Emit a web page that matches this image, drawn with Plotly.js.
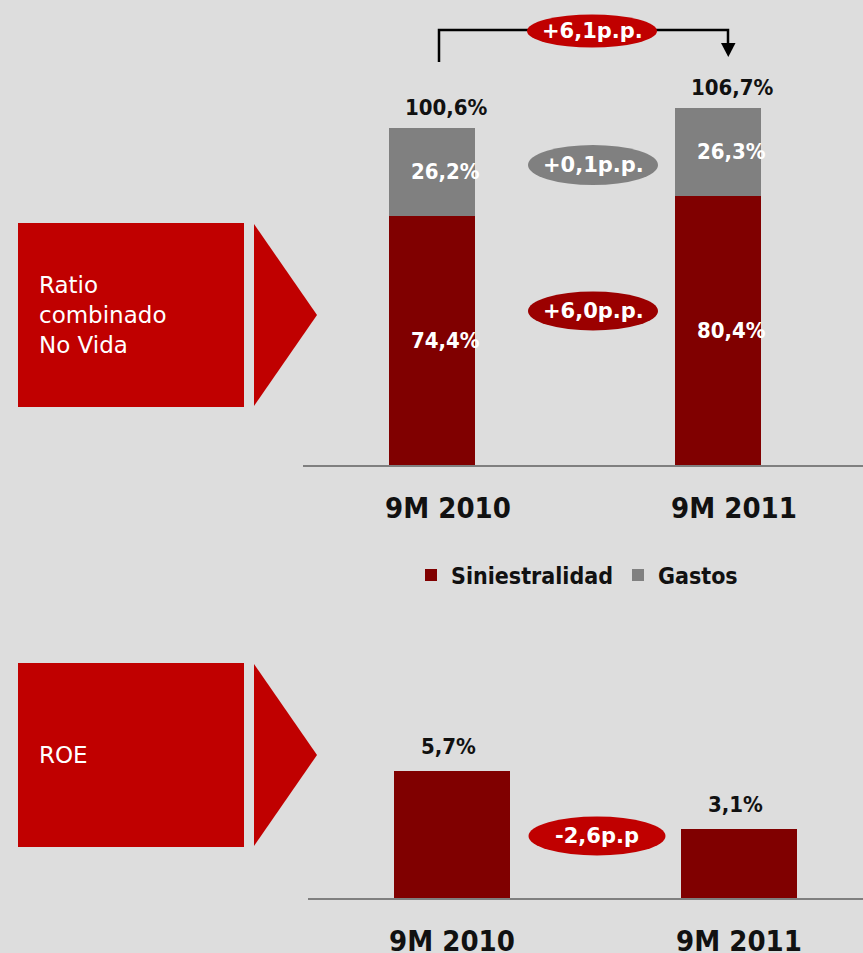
<!DOCTYPE html>
<html>
<head>
<meta charset="utf-8">
<script src="https://cdn.plot.ly/plotly-3.0.1.min.js"></script>
<style>
html,body{margin:0;padding:0;background:#dddddd;}
#chart{width:863px;height:953px;}
</style>
</head>
<body>
<div id="chart"></div>
<script>
// ---- data ----
const categories = ['9M 2010', '9M 2011'];
const siniestralidad = [74.4, 80.4];
const gastos = [26.2, 26.3];
const totals = [100.6, 106.7];
const roe = [5.7, 3.1];
const seriesNames = ['Siniestralidad', 'Gastos'];
const deltaLabels = ['+6,1p.p.', '+0,1p.p.', '+6,0p.p.', '-2,6p.p'];
const panelLabels = ['Ratio<br>combinado<br>No Vida', 'ROE'];

// ---- helpers ----
const W = 863, H = 953;
const px = x => x / W;
const py = y => 1 - y / H;
const fmt = v => v.toFixed(1).replace('.', ',') + '%';
const FONT = 'DejaVu Sans Condensed, DejaVu Sans, sans-serif';
const FONT2 = 'DejaVu Sans, sans-serif';
const DARK = '#800000', GRAY = '#808080', RED = '#c00000';

const traces = [
  {type:'bar', x:[0,1], y:siniestralidad, name:seriesNames[0], marker:{color:DARK}, width:0.30, xaxis:'x', yaxis:'y', hoverinfo:'skip'},
  {type:'bar', x:[0,1], y:gastos, name:seriesNames[1], marker:{color:GRAY}, width:0.30, xaxis:'x', yaxis:'y', hoverinfo:'skip'},
  {type:'bar', x:[0,1], y:roe, name:'ROE', marker:{color:DARK}, width:0.404, xaxis:'x2', yaxis:'y2', showlegend:false, hoverinfo:'skip'}
];

const annotations = [];
const lblFont = {family:FONT, size:22, color:'#111111', weight:'bold'};
const inFont = {family:FONT, size:22, color:'#ffffff', weight:'bold'};
for (let i = 0; i < 2; i++) {
  annotations.push({xref:'x', yref:'y', x:i, y:totals[i], text:fmt(totals[i]), showarrow:false, yanchor:'bottom', yshift:6, xshift:15, font:lblFont});
  annotations.push({xref:'x', yref:'y', x:i, y:siniestralidad[i] + gastos[i]/2, text:fmt(gastos[i]), showarrow:false, yanchor:'middle', xshift:14, font:inFont});
  annotations.push({xref:'x', yref:'y', x:i, y:siniestralidad[i]/2, text:fmt(siniestralidad[i]), showarrow:false, yanchor:'middle', xshift:14, font:inFont});
  annotations.push({xref:'x2', yref:'y2', x:i, y:roe[i], text:fmt(roe[i]), showarrow:false, yanchor:'bottom', yshift:10, xshift:-4, font:lblFont});
}

// ellipses with delta labels
const ellipses = [
  {cx:592, cy:31, w:130, h:33, color:RED, text:deltaLabels[0]},
  {cx:593, cy:165, w:130, h:40, color:GRAY, text:deltaLabels[1]},
  {cx:593, cy:311, w:130, h:39, color:'#9b0000', text:deltaLabels[2]},
  {cx:597, cy:836, w:137, h:39, color:RED, text:deltaLabels[3]}
];
const shapes = [];
// bracket line
shapes.push({type:'path', xref:'paper', yref:'paper',
  path:`M${px(439)},${py(62)} L${px(439)},${py(30)} L${px(728)},${py(30)} L${px(728)},${py(45)}`,
  line:{color:'#000000', width:2.5}});
shapes.push({type:'path', xref:'paper', yref:'paper',
  path:`M${px(721)},${py(43)} L${px(735.5)},${py(43)} L${px(728.3)},${py(57)} Z`,
  fillcolor:'#000000', line:{width:0}});
ellipses.forEach(e => {
  shapes.push({type:'circle', xref:'paper', yref:'paper',
    x0:px(e.cx - e.w/2), x1:px(e.cx + e.w/2), y0:py(e.cy + e.h/2), y1:py(e.cy - e.h/2),
    fillcolor:e.color, line:{width:0}});
  annotations.push({xref:'paper', yref:'paper', x:px(e.cx), y:py(e.cy), text:e.text, showarrow:false,
    xanchor:'center', yanchor:'middle', font:{family:FONT2, size:21, color:'#ffffff', weight:'bold'}});
});
// red panel boxes with arrows
const panels = [{y0:223, y1:407, tip:315}, {y0:663, y1:847, tip:755}];
panels.forEach((p, i) => {
  shapes.push({type:'rect', xref:'paper', yref:'paper', x0:px(18), x1:px(244), y0:py(p.y1), y1:py(p.y0), fillcolor:RED, line:{width:0}});
  shapes.push({type:'path', xref:'paper', yref:'paper',
    path:`M${px(254)},${py(p.y0+1)} L${px(317)},${py(p.tip)} L${px(254)},${py(p.y1-1)} Z`, fillcolor:RED, line:{width:0}});
  annotations.push({xref:'paper', yref:'paper', x:px(37), y:py(p.tip), text:panelLabels[i], showarrow:false,
    xanchor:'left', yanchor:'middle', align:'left', font:{family:FONT2, size:23, color:'#ffffff'}});
});

const tickFont = {family:FONT, size:29, color:'#111111', weight:'bold'};
const layout = {
  width:W, height:H,
  paper_bgcolor:'#dddddd', plot_bgcolor:'rgba(0,0,0,0)',
  margin:{l:0, r:0, t:0, b:0, pad:0},
  barmode:'stack', hovermode:false,
  showlegend:true,
  legend:{orientation:'h', x:px(577), y:py(575), xanchor:'center', yanchor:'middle',
    traceorder:'normal', font:{family:FONT, size:23, color:'#111111', weight:'bold'},
    bgcolor:'rgba(0,0,0,0)', itemwidth:30},
  xaxis:{domain:[px(303), 1], range:[-0.451, 1.507], tickmode:'array', tickvals:[0,1], ticktext:categories,
    showline:true, linecolor:'#7f7f7f', linewidth:2, showgrid:false, zeroline:false, ticks:'',
    tickfont:tickFont, ticklabelshift:16, ticklabelstandoff:16, fixedrange:true},
  yaxis:{domain:[py(465), 1], range:[0, 465/3.349], visible:false, showgrid:false, zeroline:false, fixedrange:true},
  xaxis2:{domain:[px(308), 1], range:[-0.5017, 1.432], anchor:'y2', tickmode:'array', tickvals:[0,1], ticktext:categories,
    showline:true, linecolor:'#7f7f7f', linewidth:2, showgrid:false, zeroline:false, ticks:'',
    tickfont:tickFont, ticklabelshift:0, ticklabelstandoff:16, fixedrange:true},
  yaxis2:{domain:[py(898), py(680)], range:[0, 218/22.3], anchor:'x2', visible:false, showgrid:false, zeroline:false, fixedrange:true},
  shapes:shapes,
  annotations:annotations
};

Plotly.newPlot('chart', traces, layout, {displayModeBar:false, staticPlot:true});
</script>
</body>
</html>
